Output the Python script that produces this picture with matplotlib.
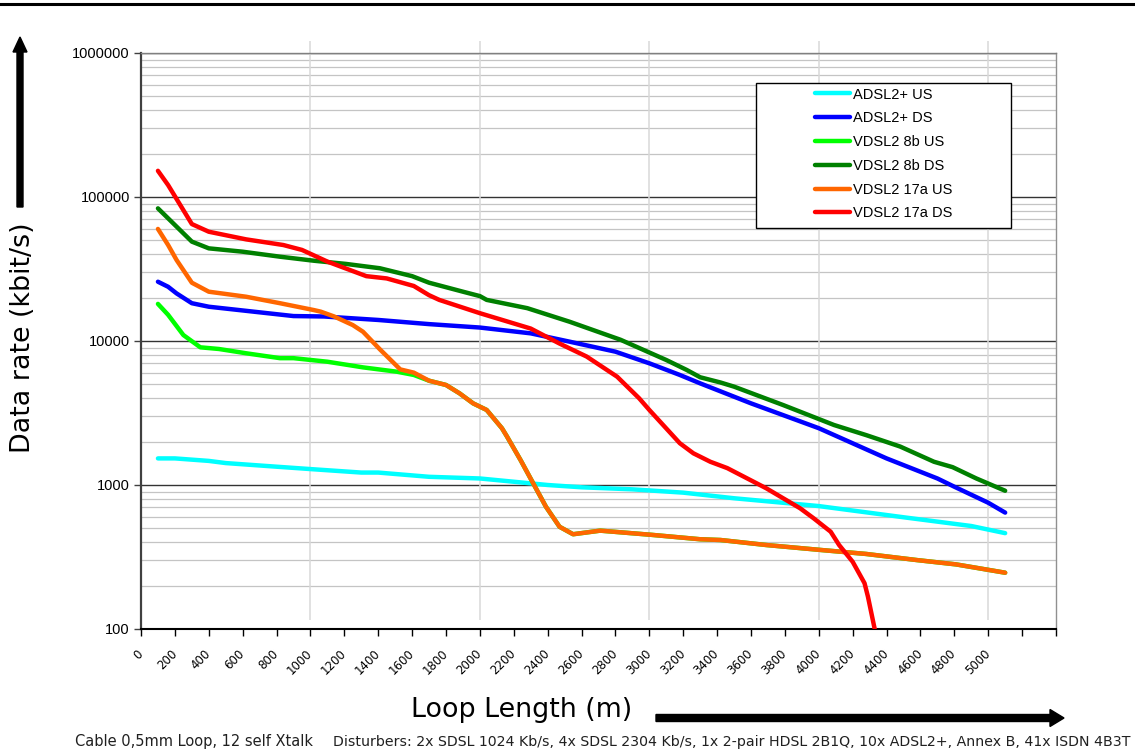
"""
Loop length vs data rate chart (ADSL2+ / VDSL2)
"""

import matplotlib
matplotlib.use('Agg')
import matplotlib.pyplot as plt
import matplotlib.patches as mpatches
from matplotlib.lines import Line2D
from matplotlib.ticker import LogLocator, NullFormatter
from matplotlib.transforms import ScaledTranslation, blended_transform_factory

plt.rcParams['font.family'] = ['Liberation Sans', 'DejaVu Sans']

# data: loop length (m) -> rate (kbit/s)
adsl_us_x = [100, 200, 400, 500, 800, 1000, 1300, 1400, 1700, 2000, 2400, 2600, 2900, 3200, 3500, 4000, 4500, 4900, 5100]
adsl_us_y = [1530, 1530, 1470, 1420, 1340, 1290, 1220, 1220, 1140, 1110, 1000, 964, 933, 885, 809, 714, 597, 519, 463]

adsl_ds_x = [100, 160, 210, 300, 400, 620, 900, 1080, 1400, 1700, 2000, 2300, 2530, 2800, 3000, 3180, 3300,
             3600, 4000, 4400, 4700, 4800, 5000, 5100]
adsl_ds_y = [25800, 23800, 21400, 18300, 17300, 16200, 14900, 14800, 14000, 13100, 12400, 11300, 9890, 8430, 7000,
             5810, 5080, 3690, 2480, 1530, 1110, 973, 753, 643]

vdsl8_us_x = [100, 160, 250, 350, 460, 620, 820, 900, 1100, 1310, 1510, 1610, 1700, 1800, 1880, 1960, 2040, 2130,
              2160, 2240, 2320, 2390, 2470, 2550, 2710, 3020, 3300, 3420, 3690, 4010, 4280, 4580, 4810, 5100]
vdsl8_us_y = [18100, 15200, 11000, 9040, 8800, 8220, 7600, 7600, 7180, 6560, 6120, 5810, 5300, 4950, 4330, 3690,
              3320, 2480, 2170, 1490, 1000, 706, 513, 455, 482, 450, 420, 415, 383, 354, 332, 301, 281, 246]

vdsl8_ds_x = [100, 160, 300, 400, 600, 820, 1020, 1210, 1410, 1600, 1700, 1900, 2000, 2040, 2280, 2530, 2830, 3100,
              3220, 3300, 3420, 3500, 3790, 4090, 4280, 4480, 4680, 4790, 4930, 5100]
vdsl8_ds_y = [83400, 71100, 49000, 44000, 41700, 38500, 36100, 34300, 32000, 28200, 25400, 22000, 20500, 19300,
              16900, 13600, 10200, 7380, 6300, 5600, 5150, 4820, 3590, 2610, 2220, 1850, 1450, 1330, 1110, 912]

vdsl17_us_x = [100, 160, 210, 300, 400, 620, 820, 1020, 1060, 1140, 1250, 1310, 1410, 1530, 1610, 1700, 1800, 1880,
               1960, 2040, 2130, 2160, 2240, 2320, 2390, 2470, 2550, 2710, 3020, 3300, 3420, 3690, 4010, 4280, 4580,
               4810, 5100]
vdsl17_us_y = [60000, 46400, 36500, 25400, 22000, 20300, 18300, 16400, 16000, 14800, 12900, 11600, 8750, 6350, 6030,
               5300, 4950, 4330, 3690, 3320, 2480, 2170, 1490, 1000, 706, 513, 455, 482, 450, 420, 415, 383, 354, 332,
               301, 281, 246]

vdsl17_ds_x = [100, 160, 300, 400, 620, 840, 950, 1100, 1330, 1450, 1610, 1700, 1760, 2000, 2300, 2470, 2630, 2810,
               2940, 3000, 3180, 3260, 3360, 3460, 3690, 3890, 3970, 4070, 4120, 4200, 4270, 4290, 4330]
vdsl17_ds_y = [152000, 121000, 64900, 57400, 50800, 46400, 42900, 35600, 28200, 27200, 24100, 20800, 19300, 15600,
               12200, 9600, 7800, 5650, 4000, 3320, 1950, 1660, 1450, 1310, 949, 689, 587, 474, 383, 293, 208, 168, 100]

series_labels = ['ADSL2+ US', 'ADSL2+ DS', 'VDSL2 8b US', 'VDSL2 8b DS', 'VDSL2 17a US', 'VDSL2 17a DS']
series_colors = ['#00FFFF', '#0000FF', '#00FF00', '#008000', '#FF6600', '#FF0000']

x_ticks = list(range(0, 5600, 200))
x_tick_labels = [str(v) if v <= 5000 else '' for v in x_ticks]
x_grid = [1000, 2000, 3000, 4000, 5000]
y_ticks = [100, 1000, 10000, 100000, 1000000]
y_tick_labels = ['100', '1000', '10000', '100000', '1000000']

W, H = 1135, 751
fig = plt.figure(figsize=(W / 100, H / 100), dpi=100)
ax = fig.add_axes([141 / W, 1 - 629 / H, 915 / W, 576 / H])

all_x = [adsl_us_x, adsl_ds_x, vdsl8_us_x, vdsl8_ds_x, vdsl17_us_x, vdsl17_ds_x]
all_y = [adsl_us_y, adsl_ds_y, vdsl8_us_y, vdsl8_ds_y, vdsl17_us_y, vdsl17_ds_y]
for xs, ys, color, label in zip(all_x, all_y, series_colors, series_labels):
    ax.plot(xs, ys, color=color, linewidth=3.2, label=label, solid_capstyle='round', zorder=3)

ax.set_yscale('log')
ax.set_yticks(y_ticks)
ax.set_yticklabels(y_tick_labels)
ax.yaxis.set_minor_locator(LogLocator(base=10, subs=range(2, 10)))
ax.yaxis.set_minor_formatter(NullFormatter())

# grid lines
ax.set_axisbelow(True)
ax.grid(True, which='minor', axis='y', color='#c4c4c4', linewidth=0.9)
ax.grid(True, which='major', axis='y', color='#333333', linewidth=1.0)
trans = blended_transform_factory(ax.transData, ax.transAxes)
ax.vlines(x_grid, 0.016, 1.021, transform=trans, colors='#d8d8d8', linewidth=1.1, clip_on=False, zorder=1.5)

ax.set_xlim(0, 5400)
ax.set_ylim(100, 1000000)

ax.set_xticks(x_ticks)
ax.set_xticklabels(x_tick_labels, rotation=45, ha='right', va='center', rotation_mode='anchor',
                   fontfamily='DejaVu Sans', fontsize=8.5)
offset = ScaledTranslation(0.095, 0, fig.dpi_scale_trans)
for lbl in ax.get_xticklabels():
    lbl.set_transform(lbl.get_transform() + offset)

ax.tick_params(axis='x', direction='out', length=5, width=1, color='black', pad=11.5)
ax.tick_params(axis='y', which='major', direction='out', length=5, width=1, color='#404040', labelsize=10.5, pad=3)
ax.tick_params(axis='y', which='minor', length=0)

ax.spines['left'].set_color('#404040')
ax.spines['left'].set_linewidth(1.6)
ax.spines['bottom'].set_color('black')
ax.spines['bottom'].set_linewidth(1.5)
ax.spines['right'].set_color('#909090')
ax.spines['right'].set_linewidth(1.0)
ax.spines['top'].set_color('#808080')
ax.spines['top'].set_linewidth(1.0)

# legend with its own box
box = mpatches.Rectangle((0.672, 0.696), 0.279, 0.252, transform=ax.transAxes,
                         facecolor='white', edgecolor='black', linewidth=1, zorder=4)
ax.add_patch(box)
leg = ax.legend(loc='center', bbox_to_anchor=(0.8115, 0.8247), frameon=False, fontsize=10.5,
                handlelength=2.4, handletextpad=0.25, labelspacing=0.67, borderpad=0)
leg.set_zorder(5)

# axis titles and arrows
fig.text(522 / W, (H - 717) / H, 'Loop Length (m)', ha='center', va='baseline',
         fontsize=19.4, fontfamily='DejaVu Sans')
fig.text(23.5 / W, 1 - 338 / H, 'Data rate (kbit/s)', rotation=90, ha='center', va='center',
         fontsize=19.4, fontfamily='DejaVu Sans')
fig.add_artist(mpatches.FancyArrow(0.20, 5.44, 0, 1.70, width=0.06, head_width=0.14, head_length=0.15,
                                   length_includes_head=True, transform=fig.dpi_scale_trans, color='black'))
fig.add_artist(mpatches.FancyArrow(6.56, 0.33, 4.08, 0, width=0.07, head_width=0.17, head_length=0.14,
                                   length_includes_head=True, transform=fig.dpi_scale_trans, color='black'))

# footnote
fig.text(75 / W, (H - 746) / H, 'Cable 0,5mm Loop, 12 self Xtalk', ha='left', va='baseline',
         fontsize=10.5, fontfamily='DejaVu Sans', color='#202020')
fig.text(333 / W, (H - 746) / H,
         'Disturbers: 2x SDSL 1024 Kb/s, 4x SDSL 2304 Kb/s, 1x 2-pair HDSL 2B1Q, 10x ADSL2+, Annex B, 41x ISDN 4B3T',
         ha='left', va='baseline', fontsize=10.15, fontfamily='DejaVu Sans', color='#202020')

# header rule
fig.add_artist(Line2D([0, 1], [1 - 4 / H, 1 - 4 / H], transform=fig.transFigure, color='black', linewidth=2.2))

plt.savefig('out.png', dpi=100)
plt.close()
